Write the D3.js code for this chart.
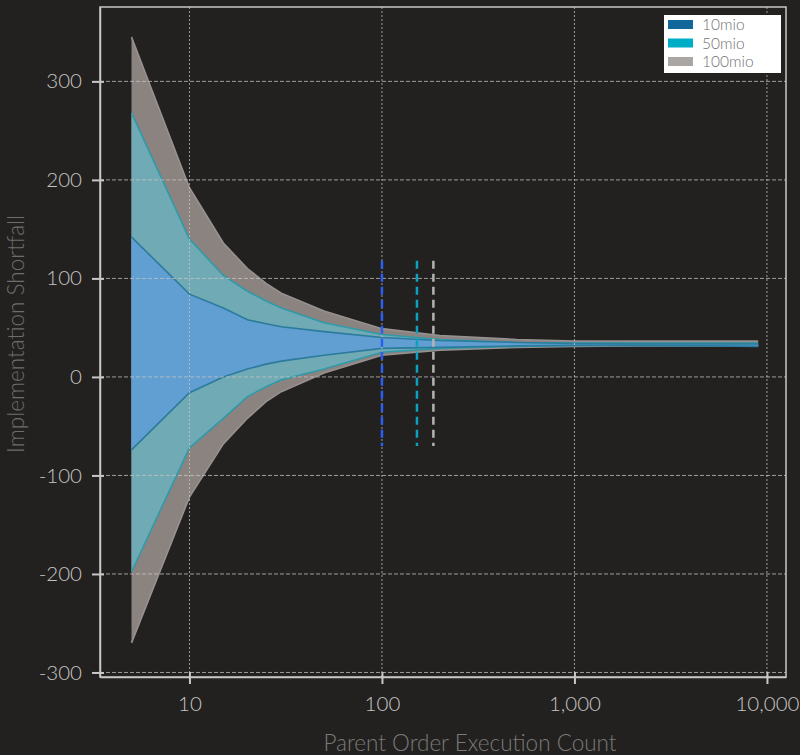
<!DOCTYPE html>
<html>
<head>
<meta charset="utf-8">
<script src="https://cdn.jsdelivr.net/npm/d3@7"></script>
<style>
  body { margin: 0; background: #222120; }
  text { font-family: Lato, "Open Sans", sans-serif; font-weight: 300; }
</style>
</head>
<body>
<div id="chart"></div>
<script>
// data
let counts = [5, 10, 15, 20, 25, 30, 50, 100, 200, 500, 1000, 2000, 5000, 9000];

let hi100 = [345, 192, 136, 110, 95, 85, 67, 49, 42, 38, 36.5, 36.5, 36.5, 36.5];
let lo100 = [-270, -122, -68, -42, -25, -15, 4, 22, 27, 30, 31, 31.5, 31.5, 31.5];

let hi50 = [268, 140, 103, 87, 77, 70, 55, 43, 38, 35, 34.5, 34.5, 34.5, 34.5];
let lo50 = [-198, -72, -42, -20, -10, -3, 8, 25, 29, 31, 32, 32, 32, 31.5];

let hi10 = [142, 84, 70, 58, 54, 51, 46, 40, 37, 35, 34, 33.5, 33.5, 33.5];
let lo10 = [-74, -16, 0, 8, 13, 16, 22, 29, 30, 31.5, 32, 32, 31.5, 31];

let seriesNames = ["10mio", "50mio", "100mio"];
let legendColors = ["#11679a", "#00adc6", "#aaa6a3"];

// dashed marker lines
let markerX = [100, 152, 185];
let markerColors = ["#2a5ff0", "#0aa2bf", "#b5b3b0"];
let markerRange = [-70, 118];

let yTicks = [-300, -200, -100, 0, 100, 200, 300];
let xTicks = [10, 100, 1000, 10000];

let svgWidth = 800;
let svgHeight = 755;

let plot = { left: 100, right: 786, top: 7, bottom: 677 };

let svg = d3.select("#chart")
    .append("svg")
    .attr("width", svgWidth)
    .attr("height", svgHeight);

let xScale = d3.scaleLog()
    .domain([3.43, 12560])
    .range([plot.left, plot.right]);

let yScale = d3.scaleLinear()
    .domain([-304.6, 375.5])
    .range([plot.bottom, plot.top]);

// bands, widest first
let bands = [
    { hi: hi100, lo: lo100, fill: "#8a8380", edge: "#979190" },
    { hi: hi50, lo: lo50, fill: "#70aab4", edge: "#2f9aaa" },
    { hi: hi10, lo: lo10, fill: "#619fd2", edge: "#2b7b9d" }
];

bands.forEach(function (b) {
    let rows = counts.map((c, i) => ({ x: c, hi: b.hi[i], lo: b.lo[i] }));

    svg.append("path")
        .datum(rows)
        .attr("fill", b.fill)
        .attr("d", d3.area()
            .x(d => xScale(d.x))
            .y0(d => yScale(d.lo))
            .y1(d => yScale(d.hi)));

    ["hi", "lo"].forEach(function (k) {
        svg.append("path")
            .datum(rows)
            .attr("fill", "none")
            .attr("stroke", b.edge)
            .attr("stroke-width", 1.6)
            .attr("d", d3.line()
                .x(d => xScale(d.x))
                .y(d => yScale(d[k])));
    });
});

// grid on top of the bands
svg.append("g")
    .selectAll("line")
    .data(yTicks)
    .enter()
    .append("line")
    .attr("x1", plot.left)
    .attr("x2", plot.right)
    .attr("y1", d => yScale(d))
    .attr("y2", d => yScale(d))
    .attr("stroke", "#c8c6c4")
    .attr("stroke-opacity", 0.75)
    .attr("stroke-dasharray", "4,2");

svg.append("g")
    .selectAll("line")
    .data(xTicks)
    .enter()
    .append("line")
    .attr("x1", d => xScale(d))
    .attr("x2", d => xScale(d))
    .attr("y1", plot.top)
    .attr("y2", plot.bottom)
    .attr("stroke", "#c8c6c4")
    .attr("stroke-opacity", 0.75)
    .attr("stroke-dasharray", "2,2");

// marker lines
svg.append("g")
    .selectAll("line")
    .data(markerX)
    .enter()
    .append("line")
    .attr("x1", d => xScale(d))
    .attr("x2", d => xScale(d))
    .attr("y1", yScale(markerRange[1]))
    .attr("y2", yScale(markerRange[0]))
    .attr("stroke", (d, i) => markerColors[i])
    .attr("stroke-width", 2.5)
    .attr("stroke-dasharray", "8,5");

// frame
svg.append("rect")
    .attr("x", plot.left)
    .attr("y", plot.top)
    .attr("width", plot.right - plot.left)
    .attr("height", plot.bottom - plot.top)
    .attr("fill", "none")
    .attr("stroke", "#c9c7c5")
    .attr("stroke-width", 1.5);

// axes
let leftAxis = d3.axisLeft(yScale)
    .tickValues(yTicks)
    .tickFormat(d => String(d))
    .tickSizeInner(8)
    .tickSizeOuter(0)
    .tickPadding(10);

let bottomAxis = d3.axisBottom(xScale)
    .tickValues(xTicks)
    .tickFormat(d3.format(","))
    .tickSizeInner(7)
    .tickSizeOuter(0)
    .tickPadding(12);

let yAxisG = svg.append("g")
    .attr("transform", `translate(${plot.left}, 0)`)
    .call(leftAxis);

let xAxisG = svg.append("g")
    .attr("transform", `translate(0, ${plot.bottom})`)
    .call(bottomAxis);

[yAxisG, xAxisG].forEach(function (g) {
    g.select(".domain").attr("stroke", "#c9c7c5").attr("stroke-width", 1.5);
    g.selectAll(".tick line").attr("stroke", "#c9c7c5").attr("stroke-width", 2);
    g.selectAll(".tick text")
        .attr("fill", "#c6c4c2")
        .attr("font-size", "20.5px")
        .attr("font-family", "Lato, sans-serif")
        .attr("font-weight", 300);
});

// ticks poke through the frame a little
yAxisG.selectAll(".tick line").attr("x2", -8).attr("x1", 4);
xAxisG.selectAll(".tick line").attr("y1", -5).attr("y2", 7);

// axis titles
svg.append("text")
    .attr("x", 470)
    .attr("y", 751)
    .attr("text-anchor", "middle")
    .attr("fill", "#7b7977")
    .attr("font-size", "22.5px")
    .text("Parent Order Execution Count");

svg.append("text")
    .attr("transform", "translate(24, 334) rotate(-90)")
    .attr("text-anchor", "middle")
    .attr("fill", "#6f6d6b")
    .attr("font-size", "22.5px")
    .text("Implementation Shortfall");

// legend
let legend = svg.append("g").attr("transform", "translate(664, 15)");

legend.append("rect")
    .attr("width", 117)
    .attr("height", 58)
    .attr("fill", "#ffffff");

seriesNames.forEach(function (name, i) {
    legend.append("rect")
        .attr("x", 4)
        .attr("y", 5 + i * 18.5)
        .attr("width", 25)
        .attr("height", 9)
        .attr("fill", legendColors[i]);
    legend.append("text")
        .attr("x", 38)
        .attr("y", 15 + i * 18.5)
        .attr("fill", "#707070")
        .attr("font-size", "15.5px")
        .text(name);
});
</script>
</body>
</html>
